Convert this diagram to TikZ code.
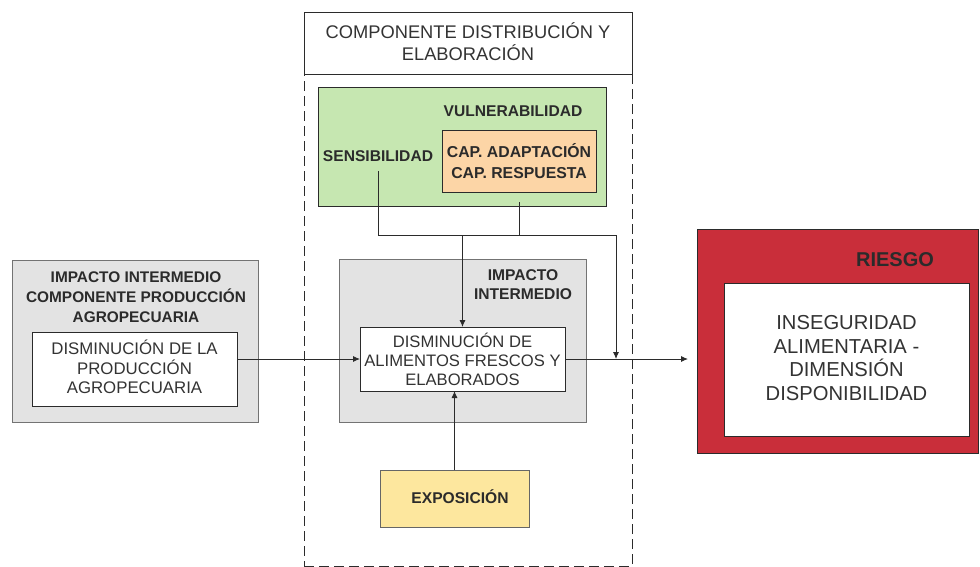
\documentclass[tikz,border=0pt]{standalone}
\usepackage{fontspec}
\setmainfont{Liberation Sans}
\usetikzlibrary{arrows.meta}
\definecolor{ink}{HTML}{2B2B2B}
\definecolor{txt}{HTML}{333333}
\definecolor{vulgreen}{HTML}{C6E7B1}
\definecolor{capor}{HTML}{FCD5A6}
\definecolor{expyel}{HTML}{FDE79E}
\definecolor{impgray}{HTML}{E3E3E3}
\definecolor{riskred}{HTML}{C92E3A}
\tikzset{
  box/.style={draw=ink, line width=0.9pt, inner sep=0pt, outer sep=0pt},
  plain/.style={box, fill=white},
  graybox/.style={draw=black!55, line width=0.9pt, fill=impgray, inner sep=0pt, outer sep=0pt},
  lbl/.style={align=center, inner sep=0pt, text=txt},
  blbl/.style={align=center, inner sep=0pt, text=ink, font=\bfseries\fontsize{15.6}{19}\selectfont},
  conn/.style={draw=ink, line width=0.9pt},
  arr/.style={conn, -{Latex[length=7pt,width=6pt]}},
}
\begin{document}
\begin{tikzpicture}[x=1pt,y=-1pt]
\useasboundingbox (0,0) rectangle (980,566);

% distribution and elaboration component frame (lower edge runs along the page border)
\node[box, dashed, dash pattern=on 10pt off 5pt, minimum width=328pt, minimum height=492pt] (comp) at (468,320) {};
\node[plain, minimum width=328pt, minimum height=62pt] (title) at (468,43) {};
\node[lbl, font=\fontsize{18.3}{21.5}\selectfont] (titletxt) at (468,41.5) {COMPONENTE DISTRIBUCIÓN Y\\ELABORACIÓN};

% vulnerability block
\node[box, fill=vulgreen, minimum width=288pt, minimum height=119pt] (vul) at (462,146.5) {};
\node[blbl] (vultxt) at (513,111) {VULNERABILIDAD};
\node[blbl] (sens) at (378,156) {SENSIBILIDAD};
\node[box, fill=capor, minimum width=154pt, minimum height=62pt] (cap) at (519,161) {};
\node[blbl, font=\bfseries\fontsize{15.8}{21}\selectfont] (captxt) at (519,161) {CAP. ADAPTACIÓN\\CAP. RESPUESTA};

% intermediate impact (centre)
\node[graybox, minimum width=247pt, minimum height=163pt] (imp) at (462.5,340.5) {};
\node[blbl] (imptxt) at (523,285) {IMPACTO\\INTERMEDIO};
\node[plain, minimum width=205pt, minimum height=64pt] (dis) at (462.5,359) {};
\node[lbl, font=\fontsize{16.6}{19}\selectfont] (distxt) at (462.5,359) {DISMINUCIÓN DE\\ALIMENTOS FRESCOS Y\\ELABORADOS};

% exposure
\node[box, draw=black!60, fill=expyel, minimum width=149pt, minimum height=57pt] (expo) at (454.5,498.5) {};
\node[blbl] (expotxt) at (460,497) {EXPOSICIÓN};

% intermediate impact of the production component
\node[graybox, minimum width=246pt, minimum height=162pt] (prod) at (135,341) {};
\node[blbl, font=\bfseries\fontsize{15.4}{20}\selectfont] (prodtxt) at (136,297) {IMPACTO INTERMEDIO\\COMPONENTE PRODUCCIÓN\\AGROPECUARIA};
\node[plain, minimum width=205pt, minimum height=74pt] (prodin) at (134.5,369) {};
\node[lbl, font=\fontsize{16.8}{19.5}\selectfont] (prodintxt) at (134.5,367) {DISMINUCIÓN DE LA\\PRODUCCIÓN\\AGROPECUARIA};

% risk
\node[box, fill=riskred, minimum width=281pt, minimum height=224pt] (risk) at (837.5,341) {};
\node[blbl, font=\bfseries\fontsize{20}{22}\selectfont] (risktxt) at (895,260) {RIESGO};
\node[plain, minimum width=245pt, minimum height=153pt] (inseg) at (846.5,359.5) {};
\node[lbl, font=\fontsize{20.2}{23.4}\selectfont] (insegtxt) at (846.5,358) {INSEGURIDAD\\ALIMENTARIA -\\DIMENSIÓN\\DISPONIBILIDAD};

% connectors
\coordinate (sensout) at (378,171);
\coordinate (capout) at (519,202);
\coordinate (busR) at (616,235);
\coordinate (outend) at (688,359);
\draw[conn] (sensout) |- (busR);
\draw[conn] (capout) -- (capout |- busR);
\draw[arr] (dis.north |- busR) -- (dis.north);
\draw[arr] (busR) -- (busR |- dis.east);
\draw[arr] (expo.north) -- (expo.north |- dis.south);
\draw[arr] (dis.west -| prodin.east) -- (dis.west);
\draw[arr] (dis.east) -- (outend);
\end{tikzpicture}
\end{document}
